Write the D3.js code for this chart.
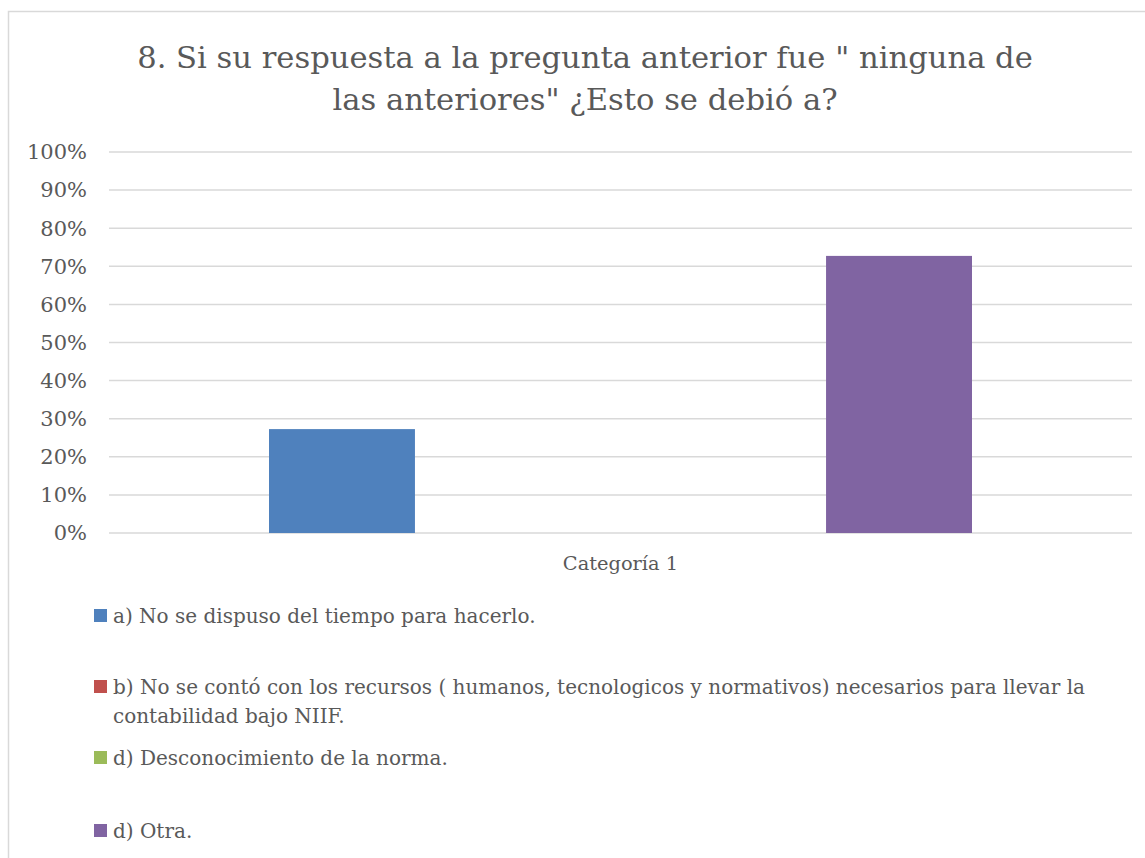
<!DOCTYPE html>
<html>
<head>
<meta charset="utf-8">
<script src="https://cdn.jsdelivr.net/npm/d3@7"></script>
<style>
  body { margin: 0; background: #fff; }
  text { font-family: "DejaVu Serif", serif; fill: #595959; }
</style>
</head>
<body>
<svg id="chart" width="1145" height="858"></svg>
<script>
const titleLines = ['8. Si su respuesta a la pregunta anterior fue " ninguna de', 'las anteriores" ¿Esto se debió a?'];
const categories = ['Categoría 1'];
const seriesNames = [
  'a) No se dispuso del tiempo para hacerlo.',
  'b) No se contó con los recursos ( humanos, tecnologicos y normativos) necesarios para llevar la|contabilidad bajo NIIF.',
  'd) Desconocimiento de la norma.',
  'd) Otra.'
];
const seriesValues = [0.2727, 0, 0, 0.7273];
const seriesColors = ['#4f81bd', '#c0504d', '#9bbb59', '#8064a2'];
const yTicks = [0, 0.1, 0.2, 0.3, 0.4, 0.5, 0.6, 0.7, 0.8, 0.9, 1];

const margin = { top: 152, left: 109, right: 13, bottom: 325 };
const width = 1145 - margin.left - margin.right;
const height = 858 - margin.top - margin.bottom;

const svg = d3.select('#chart');

// chart frame
svg.append('rect')
  .attr('x', 8.5).attr('y', 11.5)
  .attr('width', 1145).attr('height', 858)
  .attr('fill', 'none')
  .attr('stroke', '#d9d9d9')
  .attr('stroke-width', 1.5);

// title
svg.append('g').selectAll('text')
  .data(titleLines)
  .enter().append('text')
  .attr('x', 585)
  .attr('y', (d, i) => 68 + i * 42)
  .attr('text-anchor', 'middle')
  .style('font-size', '30.6px')
  .text(d => d);

const g = svg.append('g').attr('transform', `translate(${margin.left},${margin.top})`);

const y = d3.scaleLinear().domain([0, 1]).range([height, 0]);
const x0 = d3.scaleBand().domain(categories).range([0, width]).paddingInner(0).paddingOuter(0.2276);
const x1 = d3.scaleBand().domain(d3.range(seriesNames.length)).range([0, x0.bandwidth()])
  .paddingInner(0.214).paddingOuter(0);

// gridlines
g.selectAll('.grid')
  .data(yTicks)
  .enter().append('line')
  .attr('x1', 0).attr('x2', width)
  .attr('y1', d => y(d)).attr('y2', d => y(d))
  .attr('stroke', '#d9d9d9')
  .attr('stroke-width', 1.5);

// y tick labels
g.selectAll('.ytick')
  .data(yTicks)
  .enter().append('text')
  .attr('x', -22)
  .attr('y', d => y(d))
  .attr('dy', '0.35em')
  .attr('text-anchor', 'end')
  .style('font-size', '21px')
  .text(d => d3.format('.0%')(d));

// bars
categories.forEach(cat => {
  g.selectAll('.bar')
    .data(seriesValues)
    .enter().append('rect')
    .attr('x', (d, i) => x0(cat) + x1(i))
    .attr('y', d => y(d))
    .attr('width', x1.bandwidth())
    .attr('height', d => height - y(d))
    .attr('fill', (d, i) => seriesColors[i]);
});

// category label
g.selectAll('.xlab')
  .data(categories)
  .enter().append('text')
  .attr('x', d => x0(d) + x0.bandwidth() / 2)
  .attr('y', height + 37)
  .attr('text-anchor', 'middle')
  .style('font-size', '19.4px')
  .text(d => d);

// legend
const legendY = [623, 694, 765, 838];
const legend = svg.append('g');
seriesNames.forEach((name, i) => {
  legend.append('rect')
    .attr('x', 94).attr('y', legendY[i] - 14)
    .attr('width', 13).attr('height', 13)
    .attr('fill', seriesColors[i]);
  const t = legend.append('text')
    .attr('x', 113).attr('y', legendY[i])
    .style('font-size', '20px');
  name.split('|').forEach((line, j) => {
    t.append('tspan').attr('x', 113).attr('dy', j === 0 ? 0 : 29).text(line);
  });
});
</script>
</body>
</html>
